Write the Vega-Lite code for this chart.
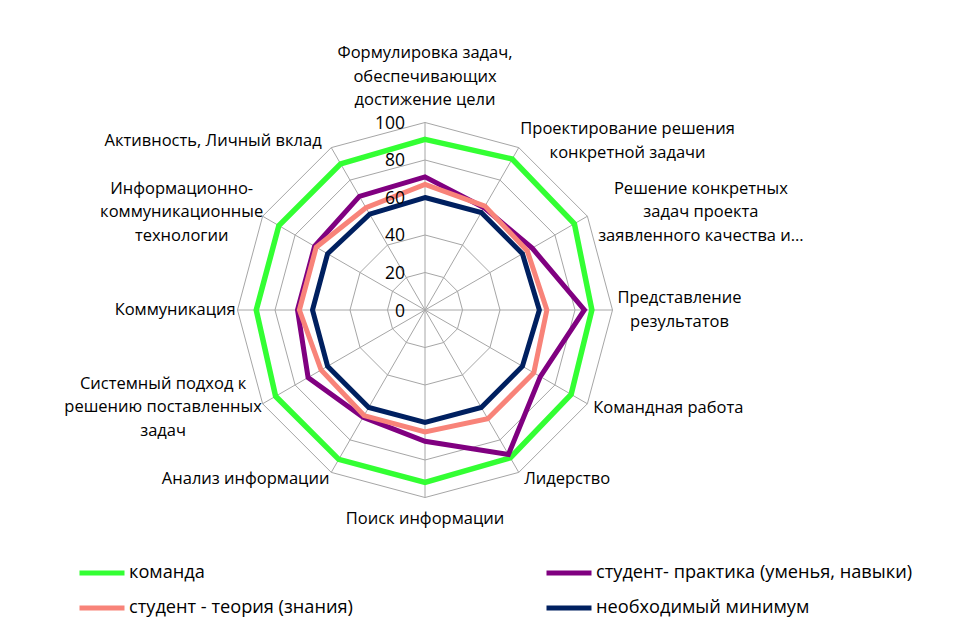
{
  "$schema": "https://vega.github.io/schema/vega-lite/v6.json",
  "width": 968,
  "height": 620,
  "autosize": {"type": "fit", "contains": "padding"},
  "padding": 0,
  "background": "white",
  "config": {"view": {"stroke": null}, "font": "Open Sans"},
  "data": {
    "values": [
      {"axis": "Формулировка задач,\nобеспечивающих\nдостижение цели", "series": "команда", "value": 91},
      {"axis": "Проектирование решения\nконкретной задачи", "series": "команда", "value": 93},
      {"axis": "Решение конкретных\nзадач проекта\nзаявленного качества и…", "series": "команда", "value": 92},
      {"axis": "Представление\nрезультатов", "series": "команда", "value": 89},
      {"axis": "Командная работа", "series": "команда", "value": 90},
      {"axis": "Лидерство", "series": "команда", "value": 91},
      {"axis": "Поиск информации", "series": "команда", "value": 92},
      {"axis": "Анализ информации", "series": "команда", "value": 92},
      {"axis": "Системный подход к\nрешению поставленных\nзадач", "series": "команда", "value": 92},
      {"axis": "Коммуникация", "series": "команда", "value": 90},
      {"axis": "Информационно-\nкоммуникационные\nтехнологии", "series": "команда", "value": 90},
      {"axis": "Активность, Личный вклад", "series": "команда", "value": 90},

      {"axis": "Формулировка задач,\nобеспечивающих\nдостижение цели", "series": "студент- практика (уменья, навыки)", "value": 71},
      {"axis": "Проектирование решения\nконкретной задачи", "series": "студент- практика (уменья, навыки)", "value": 63},
      {"axis": "Решение конкретных\nзадач проекта\nзаявленного качества и…", "series": "студент- практика (уменья, навыки)", "value": 66},
      {"axis": "Представление\nрезультатов", "series": "студент- практика (уменья, навыки)", "value": 85},
      {"axis": "Командная работа", "series": "студент- практика (уменья, навыки)", "value": 71},
      {"axis": "Лидерство", "series": "студент- практика (уменья, навыки)", "value": 89},
      {"axis": "Поиск информации", "series": "студент- практика (уменья, навыки)", "value": 70},
      {"axis": "Анализ информации", "series": "студент- практика (уменья, навыки)", "value": 66},
      {"axis": "Системный подход к\nрешению поставленных\nзадач", "series": "студент- практика (уменья, навыки)", "value": 72},
      {"axis": "Коммуникация", "series": "студент- практика (уменья, навыки)", "value": 68},
      {"axis": "Информационно-\nкоммуникационные\nтехнологии", "series": "студент- практика (уменья, навыки)", "value": 68},
      {"axis": "Активность, Личный вклад", "series": "студент- практика (уменья, навыки)", "value": 70},

      {"axis": "Формулировка задач,\nобеспечивающих\nдостижение цели", "series": "студент - теория (знания)", "value": 67},
      {"axis": "Проектирование решения\nконкретной задачи", "series": "студент - теория (знания)", "value": 64},
      {"axis": "Решение конкретных\nзадач проекта\nзаявленного качества и…", "series": "студент - теория (знания)", "value": 63},
      {"axis": "Представление\nрезультатов", "series": "студент - теория (знания)", "value": 65},
      {"axis": "Командная работа", "series": "студент - теория (знания)", "value": 67},
      {"axis": "Лидерство", "series": "студент - теория (знания)", "value": 67},
      {"axis": "Поиск информации", "series": "студент - теория (знания)", "value": 65},
      {"axis": "Анализ информации", "series": "студент - теория (знания)", "value": 65},
      {"axis": "Системный подход к\nрешению поставленных\nзадач", "series": "студент - теория (знания)", "value": 64},
      {"axis": "Коммуникация", "series": "студент - теория (знания)", "value": 67},
      {"axis": "Информационно-\nкоммуникационные\nтехнологии", "series": "студент - теория (знания)", "value": 67},
      {"axis": "Активность, Личный вклад", "series": "студент - теория (знания)", "value": 63},

      {"axis": "Формулировка задач,\nобеспечивающих\nдостижение цели", "series": "необходимый минимум", "value": 60},
      {"axis": "Проектирование решения\nконкретной задачи", "series": "необходимый минимум", "value": 60},
      {"axis": "Решение конкретных\nзадач проекта\nзаявленного качества и…", "series": "необходимый минимум", "value": 60},
      {"axis": "Представление\nрезультатов", "series": "необходимый минимум", "value": 61},
      {"axis": "Командная работа", "series": "необходимый минимум", "value": 60},
      {"axis": "Лидерство", "series": "необходимый минимум", "value": 60},
      {"axis": "Поиск информации", "series": "необходимый минимум", "value": 60},
      {"axis": "Анализ информации", "series": "необходимый минимум", "value": 60},
      {"axis": "Системный подход к\nрешению поставленных\nзадач", "series": "необходимый минимум", "value": 60},
      {"axis": "Коммуникация", "series": "необходимый минимум", "value": 60},
      {"axis": "Информационно-\nкоммуникационные\nтехнологии", "series": "необходимый минимум", "value": 60},
      {"axis": "Активность, Личный вклад", "series": "необходимый минимум", "value": 59}
    ]
  },
  "transform": [
    {"window": [{"op": "row_number", "as": "idx"}], "groupby": ["series"]},
    {"calculate": "(datum.idx - 1) * PI / 6", "as": "theta"},
    {"calculate": "sin(datum.theta)", "as": "s"},
    {"calculate": "cos(datum.theta)", "as": "c"},
    {"calculate": "datum.value * datum.s", "as": "px"},
    {"calculate": "datum.value * datum.c", "as": "py"},
    {"calculate": "100 * datum.s", "as": "ex"},
    {"calculate": "100 * datum.c", "as": "ey"},
    {"calculate": "0", "as": "zero"}
  ],
  "layer": [
    {
      "transform": [
        {"filter": "datum.series === 'команда'"},
        {"calculate": "[20, 40, 60, 80, 100]", "as": "levels"},
        {"flatten": ["levels"], "as": ["level"]},
        {"calculate": "datum.level * datum.s", "as": "gx"},
        {"calculate": "datum.level * datum.c", "as": "gy"}
      ],
      "mark": {"type": "line", "interpolate": "linear-closed", "stroke": "#A6A6A6", "strokeWidth": 1},
      "encoding": {
        "x": {"field": "gx", "type": "quantitative", "scale": {"domain": [-226.67, 289.6], "nice": false, "zero": false}, "axis": null},
        "y": {"field": "gy", "type": "quantitative", "scale": {"domain": [-165.33, 165.33], "nice": false, "zero": false}, "axis": null},
        "detail": {"field": "level", "type": "nominal"},
        "order": {"field": "idx", "type": "quantitative"}
      }
    },
    {
      "transform": [{"filter": "datum.series === 'команда'"}],
      "mark": {"type": "rule", "stroke": "#A6A6A6", "strokeWidth": 1},
      "encoding": {
        "x": {"field": "zero", "type": "quantitative"},
        "y": {"field": "zero", "type": "quantitative"},
        "x2": {"field": "ex"},
        "y2": {"field": "ey"}
      }
    },
    {
      "transform": [{"filter": "datum.series === 'команда'"}],
      "mark": {"type": "line", "interpolate": "linear-closed", "strokeWidth": 5.5, "strokeJoin": "miter"},
      "encoding": {
        "x": {"field": "px", "type": "quantitative"},
        "y": {"field": "py", "type": "quantitative"},
        "order": {"field": "idx", "type": "quantitative"},
        "color": {
          "field": "series", "type": "nominal",
          "scale": {"domain": ["команда", "студент - теория (знания)", "студент- практика (уменья, навыки)", "необходимый минимум"], "range": ["#33FF33", "#F88379", "#800080", "#002060"]},
          "legend": {"title": null, "orient": "none", "legendX": 77, "legendY": 548, "columns": 2, "columnPadding": 183, "rowPadding": -16, "symbolType": "stroke", "symbolSize": 2025, "symbolStrokeWidth": 5, "labelFontSize": 18.2, "labelFont": "Open Sans", "labelColor": "#000000", "labelLimit": 400, "labelOffset": 2, "padding": 0}
        }
      }
    },
    {
      "transform": [{"filter": "datum.series === 'студент- практика (уменья, навыки)'"}],
      "mark": {"type": "line", "interpolate": "linear-closed", "strokeWidth": 5, "strokeJoin": "miter"},
      "encoding": {
        "x": {"field": "px", "type": "quantitative"},
        "y": {"field": "py", "type": "quantitative"},
        "order": {"field": "idx", "type": "quantitative"},
        "color": {"field": "series", "type": "nominal"}
      }
    },
    {
      "transform": [{"filter": "datum.series === 'студент - теория (знания)'"}],
      "mark": {"type": "line", "interpolate": "linear-closed", "strokeWidth": 5, "strokeJoin": "miter"},
      "encoding": {
        "x": {"field": "px", "type": "quantitative"},
        "y": {"field": "py", "type": "quantitative"},
        "order": {"field": "idx", "type": "quantitative"},
        "color": {"field": "series", "type": "nominal"}
      }
    },
    {
      "transform": [{"filter": "datum.series === 'необходимый минимум'"}],
      "mark": {"type": "line", "interpolate": "linear-closed", "strokeWidth": 5, "strokeJoin": "miter"},
      "encoding": {
        "x": {"field": "px", "type": "quantitative"},
        "y": {"field": "py", "type": "quantitative"},
        "order": {"field": "idx", "type": "quantitative"},
        "color": {"field": "series", "type": "nominal"}
      }
    },
    {
      "data": {"values": [{"tick": 0}, {"tick": 20}, {"tick": 40}, {"tick": 60}, {"tick": 80}, {"tick": 100}]},
      "transform": [{"calculate": "0", "as": "zero"}],
      "mark": {"type": "text", "align": "right", "baseline": "middle", "dx": -20, "dy": 1.5, "fontSize": 17.5, "color": "#000000"},
      "encoding": {
        "x": {"field": "zero", "type": "quantitative"},
        "y": {"field": "tick", "type": "quantitative"},
        "text": {"field": "tick", "type": "quantitative"}
      }
    },
    {
      "transform": [
        {"filter": "datum.series === 'команда'"},
        {"calculate": "split(datum.axis, '\\n')", "as": "lines"},
        {"calculate": "length(datum.lines)", "as": "nl"},
        {"calculate": "max(length(datum.lines[0]), datum.nl > 1 ? length(datum.lines[1]) : 0, datum.nl > 2 ? length(datum.lines[2]) : 0)", "as": "ml"},
        {"calculate": "abs(datum.s) < 0.1 ? 0 : 100 * datum.s + (datum.s > 0 ? 1 : -1) * (3.5 + datum.ml * 2.48)", "as": "lx"},
        {"calculate": "abs(datum.s) < 0.1 ? (datum.c > 0 ? 112 + (datum.nl - 1) * 12.53 : -111.5) : 104 * datum.c + (datum.nl - 1) * 6.27", "as": "ly"}
      ],
      "mark": {"type": "text", "align": "center", "baseline": "middle", "fontSize": 16.5, "lineHeight": 23.5, "lineBreak": "\n", "color": "#000000"},
      "encoding": {
        "x": {"field": "lx", "type": "quantitative"},
        "y": {"field": "ly", "type": "quantitative"},
        "text": {"field": "axis", "type": "nominal"}
      }
    }
  ]
}
